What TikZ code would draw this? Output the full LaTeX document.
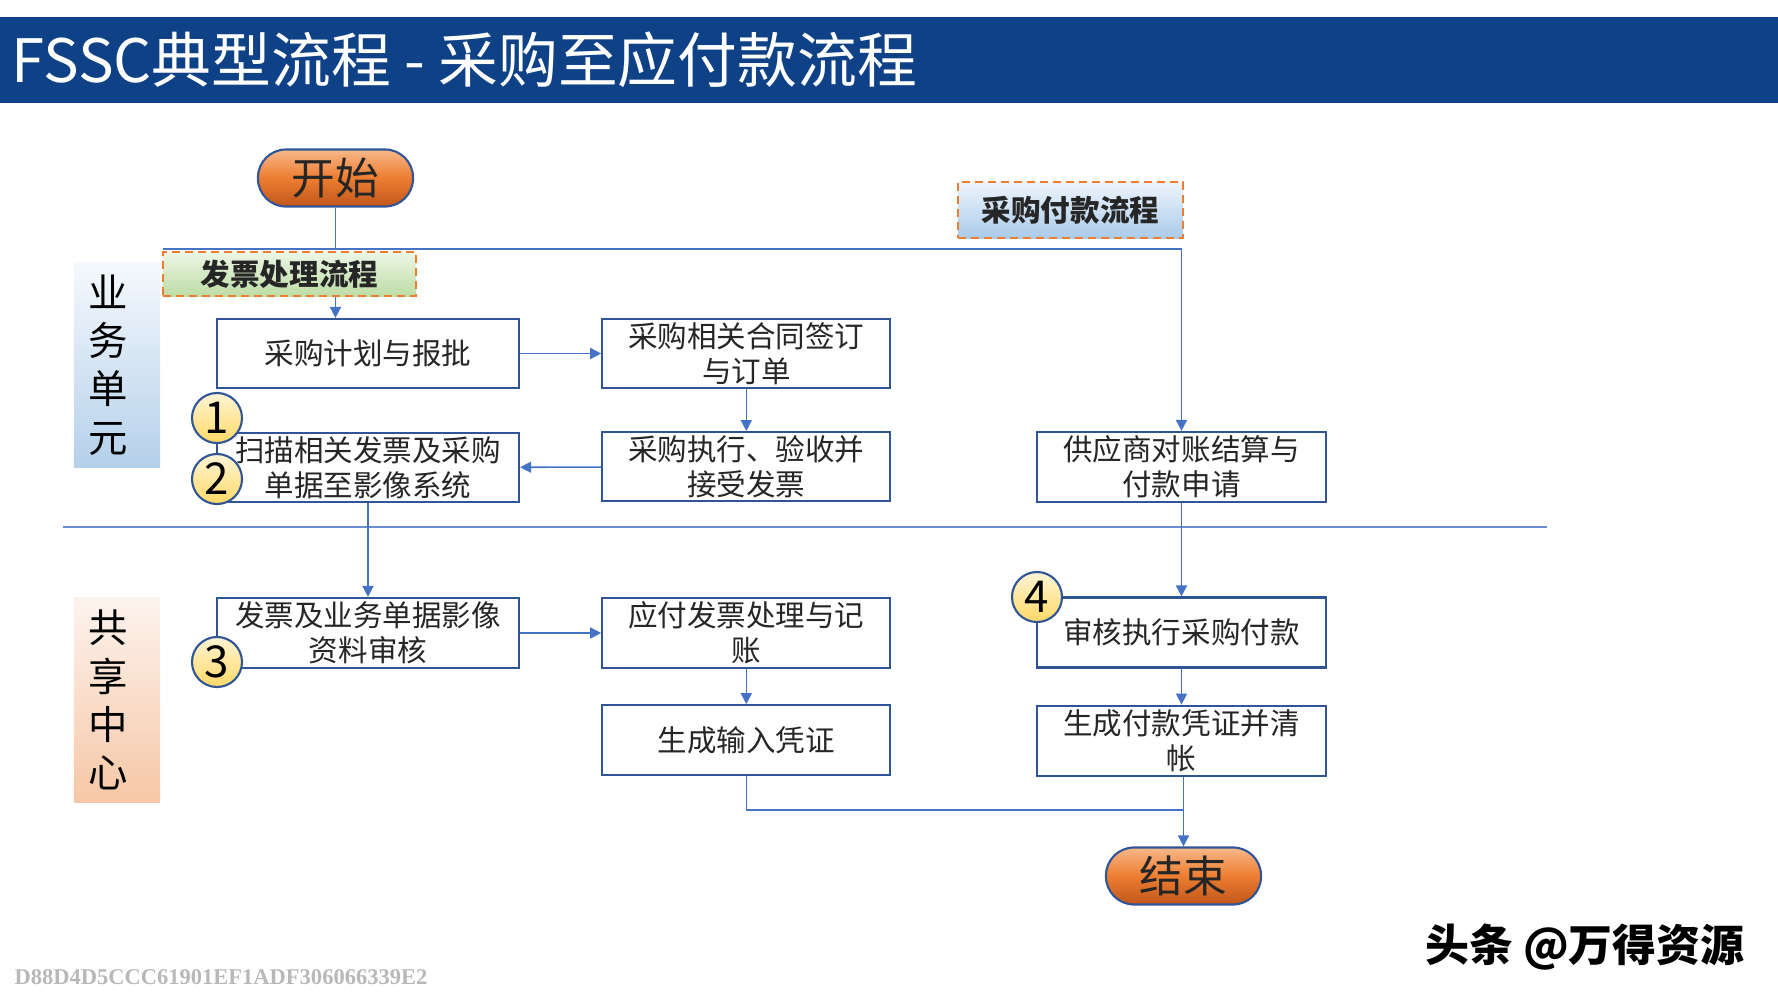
\documentclass[tikz,border=0pt]{standalone}
\usepackage{fontspec}
\newfontfamily\cjk{Noto Sans CJK SC}
\newfontfamily\hashfont{Liberation Serif}
\usepackage{xcolor}
\usepackage{tikz}
\usetikzlibrary{arrows.meta, positioning, calc}

\definecolor{titlebg}{HTML}{0F4187}
\definecolor{boxline}{HTML}{2F5597}
\definecolor{flow}{HTML}{4472C4}
\definecolor{tagline}{HTML}{ED7D31}
\definecolor{pillT}{HTML}{F6B88A}
\definecolor{pillM}{HTML}{ED7D31}
\definecolor{pillB}{HTML}{C0561A}
\definecolor{greenT}{HTML}{EDF6E6}
\definecolor{greenB}{HTML}{BCDCA4}
\definecolor{blueT}{HTML}{EEF4FB}
\definecolor{blueB}{HTML}{A9CBEA}
\definecolor{numT}{HTML}{FFF5D6}
\definecolor{numB}{HTML}{FFD966}
\definecolor{laneBT}{HTML}{F5F9FD}
\definecolor{laneBB}{HTML}{B5D0EA}
\definecolor{lanePT}{HTML}{FDF3EE}
\definecolor{lanePB}{HTML}{F6C7A6}

\begin{document}
\begin{tikzpicture}[
        x=0.01cm, y=-0.01cm,
        proc/.style={draw=boxline, line width=0.6pt, fill=white, minimum width=3.02cm, minimum height=0.69cm, inner sep=0pt, align=center, text=black!85, font=\cjk\fontsize{8.4}{10}\selectfont},
        term/.style={draw=boxline, line width=0.6pt, rounded corners=0.28cm, minimum width=1.55cm, minimum height=0.57cm, inner sep=0pt, top color=pillT, bottom color=pillB, middle color=pillM, text=black!85, font=\cjk\fontsize{12.4}{14}\selectfont},
        tag/.style={draw=tagline, dash pattern=on 2.3pt off 1.4pt, line width=0.6pt, inner sep=0pt, text=black!85, font=\cjk\bfseries\fontsize{8.4}{10}\selectfont},
        num/.style={circle, draw=boxline, line width=0.6pt, top color=numT, bottom color=numB, minimum size=0.5cm, inner sep=0pt, font=\cjk\fontsize{12.5}{14}\selectfont},
        lane/.style={minimum width=0.86cm, minimum height=2.04cm, inner sep=0pt},
        lanetext/.style={align=center, inner sep=0pt, xshift=-0.09cm, font=\cjk\fontsize{11.2}{13.7}\selectfont},
        line/.style={draw=flow, line width=0.45pt},
        arr/.style={line, -{Triangle[length=1.1mm, width=1.1mm]}},
        node distance=4.2mm and 8.1mm
    ]
        \useasboundingbox (0,0) rectangle (1778,1000);
        \fill[titlebg] (0,17) rectangle (1778,103);
        \node[anchor=west, text=white, inner sep=0pt, font=\cjk\fontsize{17}{20}\selectfont] (title) at (11,60) {FSSC典型流程 - 采购至应付款流程};

        \node[lane, top color=laneBT, bottom color=laneBB, label={[lanetext]center:{业\\务\\单\\元}}] (bizlane) at (117,365) {};
        \node[lane, top color=lanePT, bottom color=lanePB, label={[lanetext]center:{共\\享\\中\\心}}] (sharelane) at (117,700) {};
        \draw[draw=flow!80, line width=0.5pt] (63,527) -- (1547,527);

        \node[term] (start) at (335.5,178) {开始};
        \node[term] (finish) at (1183.5,876) {结束};
        \node[tag, minimum width=2.53cm, minimum height=0.44cm, top color=greenT, bottom color=greenB] (invlbl) at (289.5,274) {发票处理流程};
        \node[tag, minimum width=2.25cm, minimum height=0.56cm, top color=blueT, bottom color=blueB] (paylbl) at (1070.5,210) {采购付款流程};

        \node[proc] (plan) at (368,353.5) {采购计划与报批};
        \node[proc, minimum width=2.88cm, right=of plan] (contract) {采购相关合同签订\\与订单};
        \node[proc, minimum width=2.88cm, below=of contract] (exec) {采购执行、验收并\\接受发票};
        \node[proc, below=4.3mm of plan] (scan) {扫描相关发票及采购\\单据至影像系统};
        \node[proc, minimum width=2.89cm, minimum height=0.7cm] (supplier) at (1181.5,467) {供应商对账结算与\\付款申请};

        \node[proc, minimum height=0.7cm] (review) at (368,633) {发票及业务单据影像\\资料审核};
        \node[proc, minimum width=2.88cm, minimum height=0.7cm, right=of review] (payable) {应付发票处理与记\\账};
        \node[proc, minimum width=2.88cm, minimum height=0.7cm, below=3.5mm of payable] (voucher) {生成输入凭证};
        \node[proc, minimum width=2.89cm, minimum height=0.7cm] (audit) at (1181.5,632.5) {审核执行采购付款};
        \node[proc, minimum width=2.89cm, minimum height=0.7cm, below=3.6mm of audit] (payvch) {生成付款凭证并清\\帐};

        \node[num] (c1) at (217,418) {1};
        \node[num] (c2) at (217,479) {2};
        \node[num] (c3) at (217,662) {3};
        \node[num] (c4) at (1037,597) {4};

        \coordinate (hl) at (163,249);
        \coordinate (hr) at (supplier |- hl);
        \coordinate (mrg) at (finish |- 0,810);

        \draw[line] (start) -- (start |- hl);
        \draw[line] (hl) -- (hr);
        \draw[arr] (hr) -- (supplier);
        \draw[arr] (start |- invlbl.south) -- (start |- plan.north);
        \draw[arr] (plan) -- (contract);
        \draw[arr] (contract) -- (exec);
        \draw[arr] (exec) -- (scan);
        \draw[arr] (scan) -- (review);
        \draw[arr] (review) -- (payable);
        \draw[arr] (payable) -- (voucher);
        \draw[arr] (supplier) -- (audit);
        \draw[arr] (audit) -- (payvch);
        \draw[line] (voucher.south) |- (mrg);
        \draw[arr] (payvch.south -| finish) -- (finish);

        \node[font=\cjk\bfseries\fontsize{12.5}{14}\selectfont] (credit) at (1585,947) {头条 @万得资源};
        \node[anchor=west, inner sep=0pt, text=black!28, font=\hashfont\bfseries\fontsize{6.4}{8}\selectfont] (hash) at (14,977) {D88D4D5CCC61901EF1ADF306066339E2};
    \end{tikzpicture}
\end{document}
